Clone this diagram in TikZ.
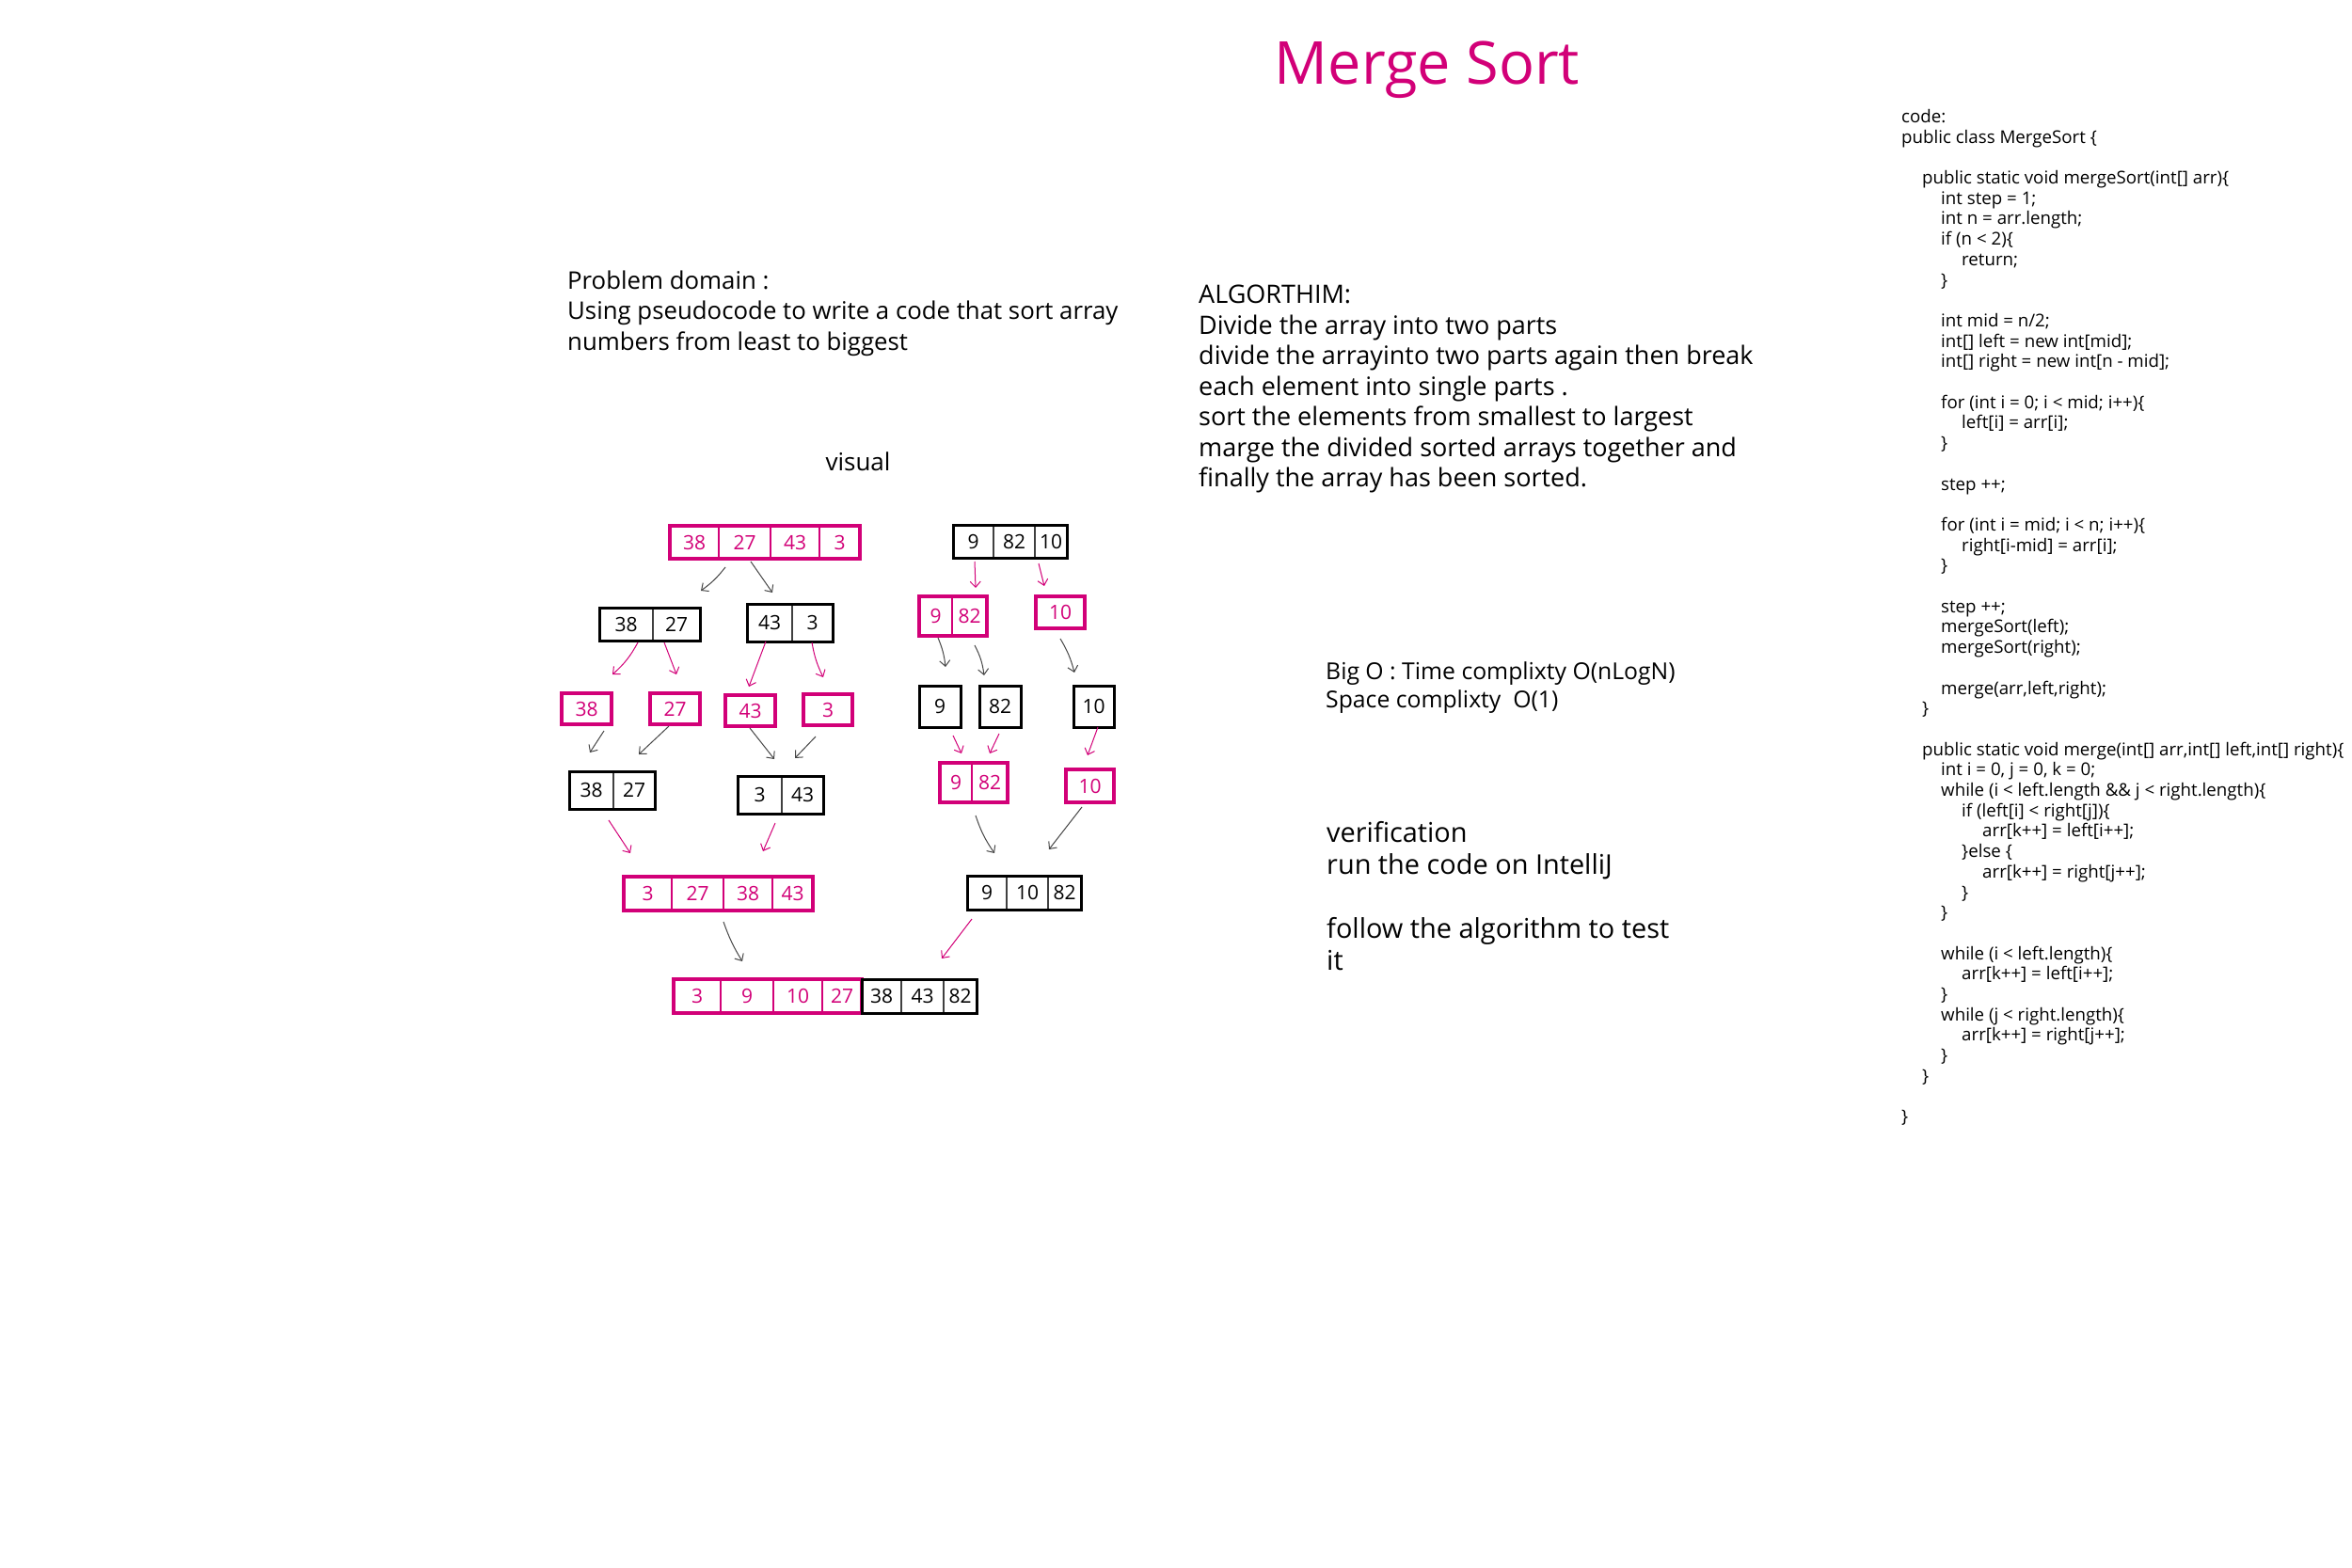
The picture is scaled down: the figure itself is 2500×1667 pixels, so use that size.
\documentclass[tikz,border=0pt]{standalone}
\usepackage{fontspec}
\setmainfont{Open Sans}
\usepackage{tikz}
\usetikzlibrary{arrows.meta}
\usetikzlibrary{fit}
\usetikzlibrary{positioning}

\definecolor{msPink}{RGB}{210,0,120}
\definecolor{arrGray}{RGB}{70,70,70}

\tikzset{
  cell/.style={inner sep=0pt, outer sep=0pt, font=\fontsize{21}{21}\selectfont},
  pcell/.style={cell, text=msPink},
  pinkbox/.style={draw=msPink, line width=3.5pt, inner sep=0pt, outer sep=0pt},
  darkbox/.style={draw=black, line width=3pt, inner sep=0pt, outer sep=0pt},
  pinkdiv/.style={draw=msPink, line width=1.2pt},
  darkdiv/.style={draw=black!75, line width=1.2pt},
  pinkarr/.style={draw=msPink, line width=1pt, -{Straight Barb[length=6pt,width=11pt]}},
  grayarr/.style={draw=arrGray, line width=1pt, -{Straight Barb[length=6pt,width=11pt]}},
  note/.style={anchor=north west, inner sep=0pt, align=left},
}

\begin{document}
\begin{tikzpicture}[x=1pt, y=-1pt]
  \fill [white] (0,0) rectangle (2500,1667);
  \useasboundingbox (0,0) rectangle (2500,1667);

  % texts
  \node (title) [anchor=base, text=msPink, font=\fontsize{63}{63}\selectfont] at (1517,90) {Merge Sort};
  \node (problem) [note, font=\fontsize{25.8}{32.5}\selectfont] at (603,287.5)
    {Problem domain :\\Using pseudocode to write a code that sort array\\numbers from least to biggest};
  \node (visual) [anchor=base, font=\fontsize{26}{26}\selectfont] at (912,500) {visual};
  \node (algo) [note, font=\fontsize{27}{32.5}\selectfont] at (1274,303)
    {ALGORTHIM:\\Divide the array into two parts\\divide the arrayinto two parts again then break\\each element into single parts .\\sort the elements from smallest to largest\\marge the divided sorted arrays together and\\finally the array has been sorted.};
  \node (bigo) [note, font=\fontsize{24.75}{30}\selectfont] at (1409,703)
    {Big O : Time complixty O(nLogN)\\Space complixty \ O(1)};
  \node (verify) [note, font=\fontsize{28.9}{34}\selectfont] at (1410,873)
    {verification\\run the code on IntelliJ\\\mbox{}\\follow the algorithm to test\\it};

  \node (code) [note, font=\fontsize{18.7}{21.7}\selectfont] at (2021,116) {code:\\
public class MergeSort \{\\
\mbox{}\\
\hspace*{22pt}public static void mergeSort(int[] arr)\{\\
\hspace*{42pt}int step = 1;\\
\hspace*{42pt}int n = arr.length;\\
\hspace*{42pt}if (n < 2)\{\\
\hspace*{64pt}return;\\
\hspace*{42pt}\}\\
\mbox{}\\
\hspace*{42pt}int mid = n/2;\\
\hspace*{42pt}int[] left = new int[mid];\\
\hspace*{42pt}int[] right = new int[n - mid];\\
\mbox{}\\
\hspace*{42pt}for (int i = 0; i < mid; i++)\{\\
\hspace*{64pt}left[i] = arr[i];\\
\hspace*{42pt}\}\\
\mbox{}\\
\hspace*{42pt}step ++;\\
\mbox{}\\
\hspace*{42pt}for (int i = mid; i < n; i++)\{\\
\hspace*{64pt}right[i-mid] = arr[i];\\
\hspace*{42pt}\}\\
\mbox{}\\
\hspace*{42pt}step ++;\\
\hspace*{42pt}mergeSort(left);\\
\hspace*{42pt}mergeSort(right);\\
\mbox{}\\
\hspace*{42pt}merge(arr,left,right);\\
\hspace*{22pt}\}\\
\mbox{}\\
\hspace*{22pt}public static void merge(int[] arr,int[] left,int[] right)\{\\
\hspace*{42pt}int i = 0, j = 0, k = 0;\\
\hspace*{42pt}while (i < left.length \&\& j < right.length)\{\\
\hspace*{64pt}if (left[i] < right[j])\{\\
\hspace*{86pt}arr[k++] = left[i++];\\
\hspace*{64pt}\}else \{\\
\hspace*{86pt}arr[k++] = right[j++];\\
\hspace*{64pt}\}\\
\hspace*{42pt}\}\\
\mbox{}\\
\hspace*{42pt}while (i < left.length)\{\\
\hspace*{64pt}arr[k++] = left[i++];\\
\hspace*{42pt}\}\\
\hspace*{42pt}while (j < right.length)\{\\
\hspace*{64pt}arr[k++] = right[j++];\\
\hspace*{42pt}\}\\
\hspace*{22pt}\}\\
\mbox{}\\
\}};

  % row 1
  \node (r1a1) [pcell, minimum width=52pt, minimum height=35pt, anchor=west] at (712,576.5) {38};
  \node (r1a2) [pcell, minimum width=55pt, minimum height=35pt, right=0pt of r1a1] {27};
  \node (r1a3) [pcell, minimum width=52pt, minimum height=35pt, right=0pt of r1a2] {43};
  \node (r1a4) [pcell, minimum width=43pt, minimum height=35pt, right=0pt of r1a3] {3};
  \draw [pinkdiv] (r1a1.north east) -- (r1a1.south east);
  \draw [pinkdiv] (r1a2.north east) -- (r1a2.south east);
  \draw [pinkdiv] (r1a3.north east) -- (r1a3.south east);
  \node [pinkbox, fit={(r1a1) (r1a4)}] (r1a) {};

  \node (r1b1) [cell, minimum width=43pt, minimum height=35pt, anchor=west] at (1013,575.5) {9};
  \node (r1b2) [cell, minimum width=44pt, minimum height=35pt, right=0pt of r1b1] {82};
  \node (r1b3) [cell, minimum width=34pt, minimum height=35pt, right=0pt of r1b2] {10};
  \draw [darkdiv] (r1b1.north east) -- (r1b1.south east);
  \draw [darkdiv] (r1b2.north east) -- (r1b2.south east);
  \node [darkbox, fit={(r1b1) (r1b3)}] (r1b) {};

  % row 2
  \node (r2a1) [cell, minimum width=57pt, minimum height=35pt, anchor=west] at (637,663.5) {38};
  \node (r2a2) [cell, minimum width=50pt, minimum height=35pt, right=0pt of r2a1] {27};
  \draw [darkdiv] (r2a1.north east) -- (r2a1.south east);
  \node [darkbox, fit={(r2a1) (r2a2)}] (r2a) {};

  \node (r2b1) [cell, minimum width=48pt, minimum height=40pt, anchor=west] at (794,662) {43};
  \node (r2b2) [cell, minimum width=43pt, minimum height=40pt, right=0pt of r2b1] {3};
  \draw [darkdiv] (r2b1.north east) -- (r2b1.south east);
  \node [darkbox, fit={(r2b1) (r2b2)}] (r2b) {};

  \node (r2c1) [pcell, minimum width=35pt, minimum height=42pt, anchor=west] at (977,655) {9};
  \node (r2c2) [pcell, minimum width=37pt, minimum height=42pt, right=0pt of r2c1] {82};
  \draw [pinkdiv] (r2c1.north east) -- (r2c1.south east);
  \node [pinkbox, fit={(r2c1) (r2c2)}] (r2c) {};

  \node (r2d1) [pcell, minimum width=52pt, minimum height=34pt, anchor=west] at (1101,651) {10};
  \node [pinkbox, fit={(r2d1)}] (r2d) {};

  % row 3
  \node (r3a1) [pcell, minimum width=53pt, minimum height=33pt, anchor=west] at (597,753.5) {38};
  \node [pinkbox, fit={(r3a1)}] (r3a) {};
  \node (r3b1) [pcell, minimum width=53pt, minimum height=33pt, anchor=west] at (691,753.5) {27};
  \node [pinkbox, fit={(r3b1)}] (r3b) {};
  \node (r3c1) [pcell, minimum width=53pt, minimum height=33pt, anchor=west] at (771,755.5) {43};
  \node [pinkbox, fit={(r3c1)}] (r3c) {};
  \node (r3d1) [pcell, minimum width=52pt, minimum height=33pt, anchor=west] at (854,754.5) {3};
  \node [pinkbox, fit={(r3d1)}] (r3d) {};
  \node (r3e1) [cell, minimum width=44pt, minimum height=44pt, anchor=west] at (977,751) {9};
  \node [darkbox, fit={(r3e1)}] (r3e) {};
  \node (r3f1) [cell, minimum width=44pt, minimum height=44pt, anchor=west] at (1041,751) {82};
  \node [darkbox, fit={(r3f1)}] (r3f) {};
  \node (r3g1) [cell, minimum width=43pt, minimum height=44pt, anchor=west] at (1141,751) {10};
  \node [darkbox, fit={(r3g1)}] (r3g) {};

  % row 4
  \node (r4a1) [cell, minimum width=47pt, minimum height=40pt, anchor=west] at (605,840) {38};
  \node (r4a2) [cell, minimum width=44pt, minimum height=40pt, right=0pt of r4a1] {27};
  \draw [darkdiv] (r4a1.north east) -- (r4a1.south east);
  \node [darkbox, fit={(r4a1) (r4a2)}] (r4a) {};

  \node (r4b1) [cell, minimum width=47pt, minimum height=40pt, anchor=west] at (784,845) {3};
  \node (r4b2) [cell, minimum width=44pt, minimum height=40pt, right=0pt of r4b1] {43};
  \draw [darkdiv] (r4b1.north east) -- (r4b1.south east);
  \node [darkbox, fit={(r4b1) (r4b2)}] (r4b) {};

  \node (r4c1) [pcell, minimum width=34pt, minimum height=42pt, anchor=west] at (999,832) {9};
  \node (r4c2) [pcell, minimum width=38pt, minimum height=42pt, right=0pt of r4c1] {82};
  \draw [pinkdiv] (r4c1.north east) -- (r4c1.south east);
  \node [pinkbox, fit={(r4c1) (r4c2)}] (r4c) {};

  \node (r4d1) [pcell, minimum width=51pt, minimum height=35pt, anchor=west] at (1133,835.5) {10};
  \node [pinkbox, fit={(r4d1)}] (r4d) {};

  % row 5
  \node (r5a1) [pcell, minimum width=51pt, minimum height=36pt, anchor=west] at (663,950) {3};
  \node (r5a2) [pcell, minimum width=55pt, minimum height=36pt, right=0pt of r5a1] {27};
  \node (r5a3) [pcell, minimum width=52pt, minimum height=36pt, right=0pt of r5a2] {38};
  \node (r5a4) [pcell, minimum width=43pt, minimum height=36pt, right=0pt of r5a3] {43};
  \draw [pinkdiv] (r5a1.north east) -- (r5a1.south east);
  \draw [pinkdiv] (r5a2.north east) -- (r5a2.south east);
  \draw [pinkdiv] (r5a3.north east) -- (r5a3.south east);
  \node [pinkbox, fit={(r5a1) (r5a4)}] (r5a) {};

  \node (r5b1) [cell, minimum width=42pt, minimum height=36pt, anchor=west] at (1028,949) {9};
  \node (r5b2) [cell, minimum width=44pt, minimum height=36pt, right=0pt of r5b1] {10};
  \node (r5b3) [cell, minimum width=35pt, minimum height=36pt, right=0pt of r5b2] {82};
  \draw [darkdiv] (r5b1.north east) -- (r5b1.south east);
  \draw [darkdiv] (r5b2.north east) -- (r5b2.south east);
  \node [darkbox, fit={(r5b1) (r5b3)}] (r5b) {};

  % row 6
  \node (r6a1) [pcell, minimum width=50pt, minimum height=36pt, anchor=west] at (716,1059) {3};
  \node (r6a2) [pcell, minimum width=56pt, minimum height=36pt, right=0pt of r6a1] {9};
  \node (r6a3) [pcell, minimum width=52pt, minimum height=36pt, right=0pt of r6a2] {10};
  \node (r6a4) [pcell, minimum width=42pt, minimum height=36pt, right=0pt of r6a3] {27};
  \node (r6b1) [cell, minimum width=42pt, minimum height=36pt, right=0pt of r6a4] {38};
  \node (r6b2) [cell, minimum width=45pt, minimum height=36pt, right=0pt of r6b1] {43};
  \node (r6b3) [cell, minimum width=35pt, minimum height=36pt, right=0pt of r6b2] {82};
  \draw [pinkdiv] (r6a1.north east) -- (r6a1.south east);
  \draw [pinkdiv] (r6a2.north east) -- (r6a2.south east);
  \draw [pinkdiv] (r6a3.north east) -- (r6a3.south east);
  \draw [darkdiv] (r6b1.north east) -- (r6b1.south east);
  \draw [darkdiv] (r6b2.north east) -- (r6b2.south east);
  \node [pinkbox, fit={(r6a1) (r6a4)}] (r6a) {};
  \node [darkbox, fit={(r6b1) (r6b3)}] (r6b) {};

  % arrows
  \draw [grayarr] ([shift={(-42,9)}]r1a.south) to[bend left=8] ([shift={(54.5,-18)}]r2a.north);
  \draw [grayarr] ([shift={(-15,3)}]r1a.south) -- ([shift={(-18.5,-12)}]r2b.north);
  \draw [pinkarr] ([shift={(-37.5,4)}]r1b.south) -- ([shift={(24,-9)}]r2c.north);
  \draw [pinkarr] ([shift={(30.5,6)}]r1b.south) -- ([shift={(-17,-11)}]r2d.north);
  \draw [pinkarr] ([shift={(-12.5,2)}]r2a.south) to[bend left=10] ([shift={(27.5,-20)}]r3a.north);
  \draw [pinkarr] ([shift={(15.5,2)}]r2a.south) -- ([shift={(1.5,-20)}]r3b.north);
  \draw [pinkarr] ([shift={(-25.5,0)}]r2b.south) -- ([shift={(-1.5,-9)}]r3c.north);
  \draw [pinkarr] ([shift={(23.5,1)}]r2b.south) to[bend right=8] ([shift={(-5,-18)}]r3d.north);
  \draw [grayarr] ([shift={(-16,2)}]r2c.south) to[bend left=8] ([shift={(6,-20)}]r3e.north);
  \draw [grayarr] ([shift={(23,10)}]r2c.south) to[bend left=10] ([shift={(-17,-11)}]r3f.north);
  \draw [grayarr] ([shift={(0,11)}]r2d.south) to[bend left=8] ([shift={(-20.5,-14)}]r3g.north);
  \draw [grayarr] ([shift={(18.5,7)}]r3a.south) -- ([shift={(-23.5,-20)}]r4a.north);
  \draw [grayarr] ([shift={(-6.5,2)}]r3b.south) -- ([shift={(28.5,-18)}]r4a.north);
  \draw [grayarr] ([shift={(-0.5,2)}]r3c.south) -- ([shift={(-6.5,-18)}]r4b.north);
  \draw [grayarr] ([shift={(-13,12)}]r3d.south) -- ([shift={(15.5,-19)}]r4b.north);
  \draw [pinkarr] ([shift={(14,9)}]r3e.south) -- ([shift={(-13,-10)}]r4c.north);
  \draw [pinkarr] ([shift={(-1,7)}]r3f.south) -- ([shift={(17,-10)}]r4c.north);
  \draw [pinkarr] ([shift={(4.5,0)}]r3g.south) -- ([shift={(-2.5,-15)}]r4d.north);
  \draw [pinkarr] ([shift={(-3.5,12)}]r4a.south) -- ([shift={(-93.5,-25)}]r5a.north);
  \draw [pinkarr] ([shift={(-5.5,10)}]r4b.south) -- ([shift={(47.5,-27)}]r5a.north);
  \draw [grayarr] ([shift={(2,14)}]r4c.south) to[bend right=8] ([shift={(-31.5,-24)}]r5b.north);
  \draw [grayarr] ([shift={(-8.5,5)}]r4d.south) -- ([shift={(26.5,-28)}]r5b.north);
  \draw [grayarr] ([shift={(5.5,12)}]r5a.south) to[bend right=6] ([shift={(-27,-19)}]r6a.north);
  \draw [pinkarr] ([shift={(-55.5,10)}]r5b.south) -- ([shift={(24,-22)}]r6b.north);
\end{tikzpicture}
\end{document}
